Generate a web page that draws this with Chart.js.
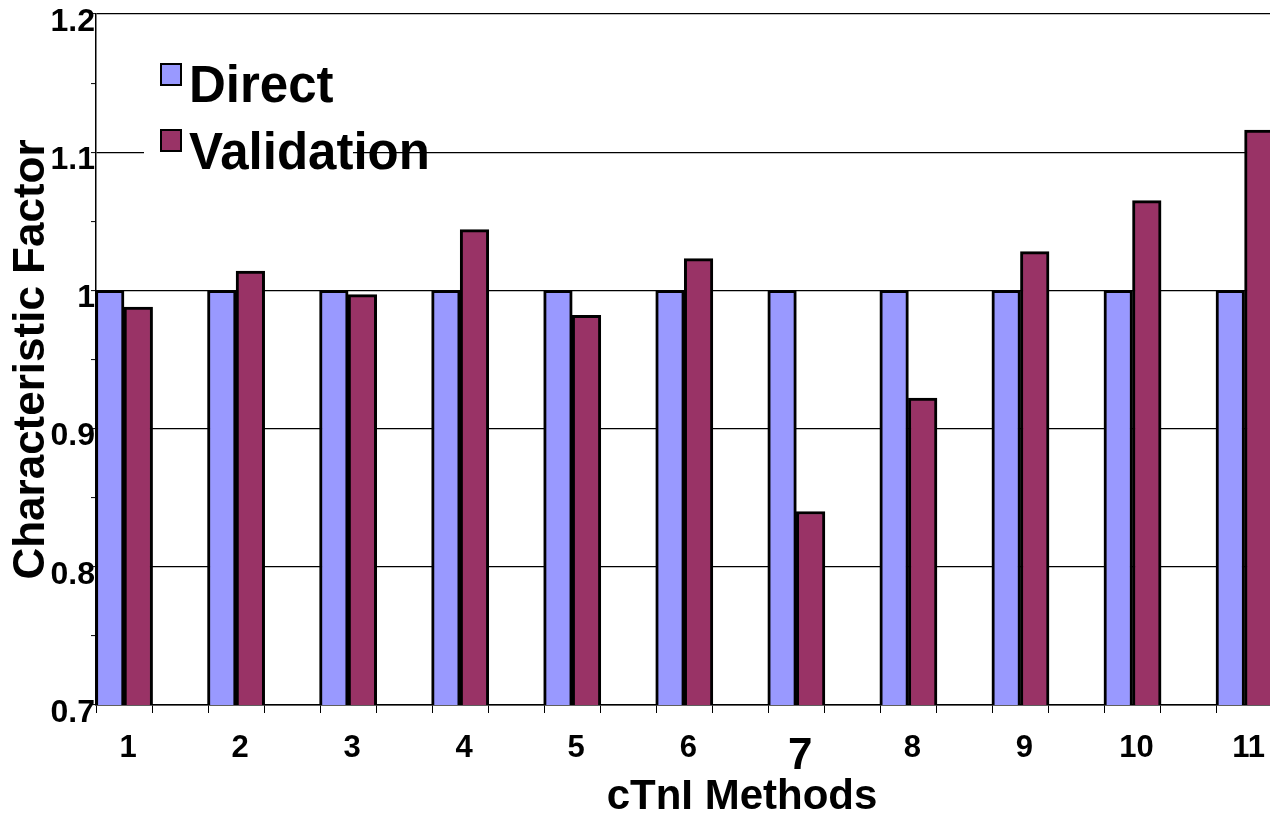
<!DOCTYPE html>
<html>
<head>
<meta charset="utf-8">
<script src="https://cdn.jsdelivr.net/npm/chart.js@4/dist/chart.umd.min.js"></script>
<style>
  html, body { margin: 0; padding: 0; background: #fff; overflow: hidden; width: 1270px; height: 819px; }
  canvas { display: block; }
</style>
</head>
<body>
<canvas id="c" width="1388" height="819"></canvas>
<script>
// cTnI methods and their characteristic factors
const methods = ['1', '2', '3', '4', '5', '6', '7', '8', '9', '10', '11'];
const directValues = [1, 1, 1, 1, 1, 1, 1, 1, 1, 1, 1];
const validationValues = [0.988, 1.014, 0.997, 1.044, 0.982, 1.023, 0.840, 0.922, 1.028, 1.065, 1.116];
const yTickLabels = ['0.7', '0.8', '0.9', '1', '1.1', '1.2'];
const seriesNames = ['Direct', 'Validation'];

const FONT = 'Arial, "Liberation Sans", Helvetica, sans-serif';
const yMajor = yTickLabels.map(Number);

// y ticks: labelled majors plus an unlabelled minor tick halfway between them
const yTickValues = [];
yMajor.forEach((v, i) => {
  yTickValues.push(v);
  if (i < yMajor.length - 1) yTickValues.push((v + yMajor[i + 1]) / 2);
});
const isMajorY = v => yMajor.some(m => Math.abs(m - v) < 1e-9);

// x ticks: a label at each method, tick marks at the edges of each bar pair
const xTickValues = [];
methods.forEach((m, i) => {
  xTickValues.push(i + 1 - 0.25, i + 1, i + 1 + 0.25);
});
const isLabelX = v => Math.abs(v - Math.round(v)) < 1e-9;

const toPoints = arr => arr.map((y, i) => ({ x: i + 1, y }));

// legend drawn inside the plot, top-left, on a white patch
const insideLegend = {
  id: 'insideLegend',
  afterDraw(chart) {
    const ctx = chart.ctx;
    ctx.save();
    ctx.fillStyle = '#ffffff';
    ctx.fillRect(144, 52, 209, 128);
    const rows = [{ box: 64, base: 102 }, { box: 130, base: 169 }];
    chart.data.datasets.forEach((ds, i) => {
      const r = rows[i];
      ctx.fillStyle = ds.backgroundColor;
      ctx.fillRect(161, r.box, 20, 21);
      ctx.lineWidth = 2;
      ctx.strokeStyle = '#000';
      ctx.strokeRect(161, r.box, 20, 21);
      ctx.fillStyle = '#000';
      ctx.font = 'bold 51px ' + FONT;
      ctx.textAlign = 'left';
      ctx.textBaseline = 'alphabetic';
      ctx.fillText(ds.label, 189, r.base);
    });
    ctx.restore();
  }
};

new Chart(document.getElementById('c'), {
  type: 'bar',
  data: {
    datasets: [
      {
        label: seriesNames[0],
        data: toPoints(directValues),
        backgroundColor: '#9999FF',
        borderColor: '#000000',
        borderWidth: 3,
        borderSkipped: 'start'
      },
      {
        label: seriesNames[1],
        data: toPoints(validationValues),
        backgroundColor: '#993366',
        borderColor: '#000000',
        borderWidth: 3,
        borderSkipped: 'start'
      }
    ]
  },
  options: {
    responsive: false,
    animation: false,
    devicePixelRatio: 1,
    barThickness: 'flex',
    categoryPercentage: 0.51,
    barPercentage: 1.0,
    layout: { padding: { top: 14, left: 0, right: 0, bottom: 0 } },
    plugins: {
      legend: { display: false },
      tooltip: { enabled: false }
    },
    scales: {
      x: {
        type: 'linear',
        min: 0.75,
        max: 12.28,
        offset: false,
        afterBuildTicks(scale) {
          scale.ticks = xTickValues.map(v => ({ value: v }));
        },
        afterFit(scale) {
          scale.height = 114;
          scale.paddingLeft = 0;
          scale.paddingRight = 0;
        },
        grid: {
          offset: false,
          drawOnChartArea: false,
          drawTicks: true,
          tickLength: 8,
          tickColor: ctx => (ctx.tick && isLabelX(ctx.tick.value)) ? 'rgba(0,0,0,0)' : '#000',
          tickWidth: 1
        },
        border: { display: true, color: '#000', width: 1.5 },
        ticks: {
          autoSkip: false,
          maxRotation: 0,
          minRotation: 0,
          padding: 17,
          labelOffset: 4,
          color: '#000',
          font: ctx => {
            const v = ctx.tick ? ctx.tick.value : 0;
            const big = isLabelX(v) && methods[Math.round(v) - 1] === '7';
            return { family: FONT, weight: 'bold', size: big ? 44 : 31 };
          },
          callback: v => isLabelX(v) ? methods[Math.round(v) - 1] : ''
        },
        title: {
          display: true,
          text: 'cTnI Methods',
          color: '#000',
          font: { family: FONT, weight: 'bold', size: 42, lineHeight: 1 },
          padding: { top: 0, bottom: 1 }
        }
      },
      y: {
        min: 0.7,
        max: 1.2,
        afterBuildTicks(scale) {
          scale.ticks = yTickValues.map(v => ({ value: v }));
        },
        afterFit(scale) {
          scale.width = 96;
          scale.paddingTop = 0;
          scale.paddingBottom = 0;
        },
        grid: {
          color: ctx => (ctx.tick && isMajorY(ctx.tick.value)) ? '#000' : 'rgba(0,0,0,0)',
          lineWidth: 1.2,
          drawTicks: true,
          tickLength: 5,
          tickColor: '#000',
          tickWidth: 1
        },
        border: { display: true, color: '#000', width: 1.5 },
        ticks: {
          padding: -4,
          labelOffset: 8,
          color: '#000',
          font: { family: FONT, weight: 'bold', size: 32 },
          callback: v => {
            const i = yMajor.findIndex(m => Math.abs(m - v) < 1e-9);
            return i >= 0 ? yTickLabels[i] : '';
          }
        },
        title: {
          display: true,
          text: 'Characteristic Factor',
          color: '#000',
          font: { family: FONT, weight: 'bold', size: 44, lineHeight: 1 },
          padding: { top: 10, bottom: 0 }
        }
      }
    }
  },
  plugins: [insideLegend]
});
</script>
</body>
</html>
